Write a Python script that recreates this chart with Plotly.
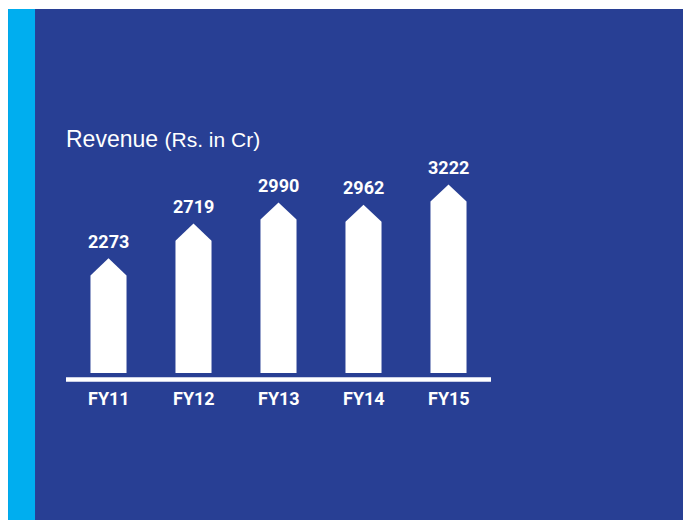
import plotly.graph_objects as go

# ---- data ----
categories = ["FY11", "FY12", "FY13", "FY14", "FY15"]
revenue = [2273, 2719, 2990, 2962, 3222]
title_main = "Revenue"
title_unit = "(Rs. in Cr)"

# ---- style ----
BG_BLUE = "#283F94"
CYAN = "#00AEEF"
WHITE = "#FFFFFF"
FONT = "Roboto, Liberation Sans, Arial, sans-serif"
TITLE_FONT = "Liberation Sans, Arial, Helvetica, sans-serif"

Y_BASE = 800          # value at the bottom of the bars
Y_TOP = 4049
CAP = 220             # height of the pointed cap (in value units)
HALF_W = 0.212        # half bar width in category units

W, H = 683, 520
ML = 66
MR = W - 491.5
MT = 120
MB = H - 373
pw = W - ML - MR
ph = H - MT - MB


def px_x(p):
    # figure x pixel -> paper fraction
    return (p - ML) / pw


def px_y(p):
    # figure y pixel -> paper fraction
    return (H - MB - p) / ph


fig = go.Figure()

xs = list(range(len(categories)))
for i, v in zip(xs, revenue):
    shoulder = v - CAP
    fig.add_trace(go.Scatter(
        x=[i - HALF_W, i - HALF_W, i, i + HALF_W, i + HALF_W, i - HALF_W],
        y=[Y_BASE, shoulder, v, shoulder, Y_BASE, Y_BASE],
        mode="lines", fill="toself", fillcolor=WHITE,
        line=dict(width=0, color=WHITE), hoverinfo="skip", showlegend=False,
    ))

annotations = []
for i, v in zip(xs, revenue):
    annotations.append(dict(
        x=i, y=v, xref="x", yref="y", text=str(v), showarrow=False,
        yanchor="middle", yshift=17,
        font=dict(family=FONT, size=18, color=WHITE, weight="bold"),
    ))
for i, c in zip(xs, categories):
    annotations.append(dict(
        x=i, y=0, xref="x", yref="paper", text=c, showarrow=False,
        yanchor="middle", yshift=-25,
        font=dict(family=FONT, size=18, color=WHITE, weight="bold"),
    ))
annotations.append(dict(
    x=px_x(64), y=px_y(139), xref="paper", yref="paper", xanchor="left", yanchor="middle",
    showarrow=False,
    text=f"<span style='font-size:23px'>{title_main}</span> <span style='font-size:21px'>{title_unit}</span>",
    font=dict(family=TITLE_FONT, size=23, color=WHITE),
))

shapes = [
    dict(type="rect", xref="paper", yref="paper", layer="below",
         x0=px_x(8), x1=px_x(W + 40), y0=px_y(H + 40), y1=px_y(9),
         fillcolor=BG_BLUE, line=dict(width=0)),
    dict(type="rect", xref="paper", yref="paper", layer="below",
         x0=px_x(8), x1=px_x(35), y0=px_y(H + 40), y1=px_y(9),
         fillcolor=CYAN, line=dict(width=0)),
    dict(type="rect", xref="paper", yref="paper", layer="above",
         x0=0, x1=1, ysizemode="pixel", yanchor=0, y0=-4.3, y1=-8.7,
         fillcolor=WHITE, line=dict(width=0)),
]

fig.update_layout(
    width=W, height=H,
    margin=dict(l=ML, r=MR, t=MT, b=MB, pad=0),
    paper_bgcolor=WHITE, plot_bgcolor="rgba(0,0,0,0)",
    xaxis=dict(range=[-0.5, 4.5], showgrid=False, zeroline=False,
               showticklabels=False, showline=False, fixedrange=True),
    yaxis=dict(range=[Y_BASE, Y_TOP], showgrid=False, zeroline=False,
               showticklabels=False, showline=False, fixedrange=True),
    shapes=shapes, annotations=annotations, showlegend=False,
)

fig.write_html("out.html", config={"displayModeBar": False},
               post_script="document.body.style.margin='0';document.body.style.overflow='hidden';")
